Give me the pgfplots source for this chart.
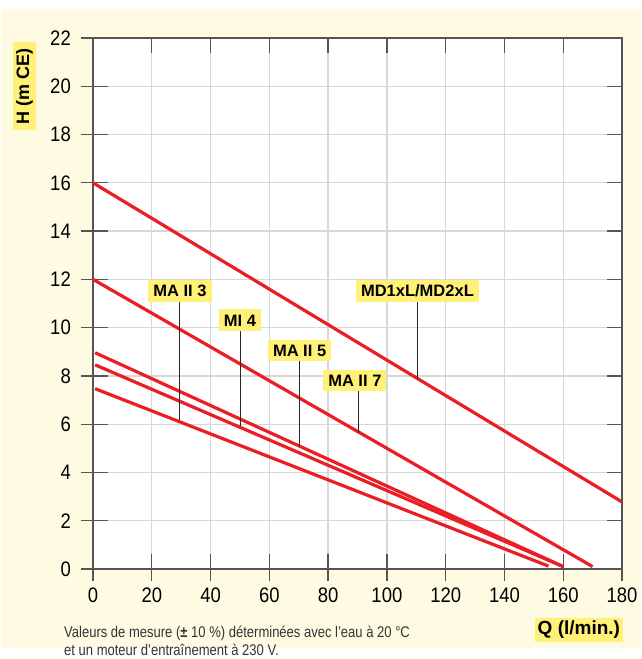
\documentclass[border=0pt]{standalone}
\usepackage{fontspec}
\setmainfont{Liberation Sans}
\newfontfamily\tickfont{Liberation Sans}[FakeStretch=0.88]
\newfontfamily\notefont{Liberation Sans}[FakeStretch=0.84]
\usepackage{pgfplots}
\pgfplotsset{compat=1.18}

\definecolor{cream}{RGB}{255,251,226}
\definecolor{lab}{RGB}{255,240,120}
\definecolor{redl}{RGB}{235,30,38}
\definecolor{gridc}{RGB}{215,215,215}
\definecolor{framec}{RGB}{85,85,85}

\begin{document}
\begin{tikzpicture}[x=1pt,y=1pt,
  tag/.style={fill=lab, inner xsep=5pt, inner ysep=5pt, text height=11.8pt, text depth=0pt,
              font=\fontsize{16.5}{18}\selectfont\bfseries},
  leader/.style={black!85, line width=1pt}]
\useasboundingbox (0,0) rectangle (641,659);
\fill[cream] (1,11) rectangle (641,650);

\begin{axis}[
    at={(93pt,90pt)}, anchor=south west,
    scale only axis, width=529pt, height=531pt,
    xmin=0, xmax=180, ymin=0, ymax=22,
    xtick={0,20,...,180},
    ytick={0,2,...,22},
    axis background/.style={fill=white},
    grid=major,
    major grid style={gridc, line width=1.3pt},
    axis line style={framec, line width=1.3pt},
    tick style={framec, line width=1.3pt},
    tick align=inside, major tick length=15pt,
    extra x ticks={0,20,...,180}, extra x tick labels={},
    extra y ticks={0,2,...,22}, extra y tick labels={},
    extra tick style={grid=none, tick align=outside, major tick length=12pt, tick pos=left},
    /pgf/number format/assume math mode=true,
    ticklabel style={font=\tickfont\fontsize{21}{24}\selectfont, inner sep=0pt},
    yticklabel style={anchor=east, xshift=-22pt},
    xticklabel style={anchor=north, yshift=-19pt},
    clip=false,
]
% MD1xL/MD2xL
\addplot[redl, line width=3.2pt] coordinates {(0,16) (180,2.78)};
% MA II 7
\addplot[redl, line width=3.2pt] coordinates {(0,12) (170,0.1)};
% MA II 5
\addplot[redl, line width=3.2pt] coordinates {(0.7,8.96) (160,0.1)};
% MI 4
\addplot[redl, line width=3.2pt] coordinates {(0.7,8.46) (160,0.1)};
% MA II 3
\addplot[redl, line width=3.2pt] coordinates {(0.7,7.47) (155,0.12)};

\draw[leader] (axis cs:29.6,11.06) -- (axis cs:29.6,6.17);
\draw[leader] (axis cs:50.2,9.86) -- (axis cs:50.2,5.92);
\draw[leader] (axis cs:70.1,8.62) -- (axis cs:70.1,5.1);
\draw[leader] (axis cs:90.2,7.37) -- (axis cs:90.2,5.65);
\draw[leader] (axis cs:110.4,11.1) -- (axis cs:110.4,7.88);

\node[tag] at (axis cs:29.6,11.52) {MA II 3};
\node[tag] at (axis cs:50.0,10.31) {MI 4};
\node[tag] at (axis cs:70.3,9.05) {MA II 5};
\node[tag] at (axis cs:89.1,7.81) {MA II 7};
\node[tag] at (axis cs:110.4,11.52) {MD1xL/MD2xL};
\end{axis}

\node[fill=lab, rotate=90, inner xsep=6pt, inner ysep=3pt, font=\fontsize{18}{20}\selectfont\bfseries]
  at (24.5,572.5) {H (m CE)};
\node[fill=lab, inner xsep=3pt, inner ysep=3pt, font=\fontsize{19}{21}\selectfont\bfseries]
  at (578.9,29) {Q (l/min.)};
\node[anchor=base west, inner sep=0pt, font=\notefont\fontsize{15.5}{17}\selectfont, text=black!80]
  at (64,21) {Valeurs de mesure (\textbf{±} 10 \%) déterminées avec l’eau à 20 °C};
\node[anchor=base west, inner sep=0pt, font=\notefont\fontsize{15.5}{17}\selectfont, text=black!80]
  at (64,3.7) {et un moteur d’entraînement à 230 V.};
\end{tikzpicture}
\end{document}
